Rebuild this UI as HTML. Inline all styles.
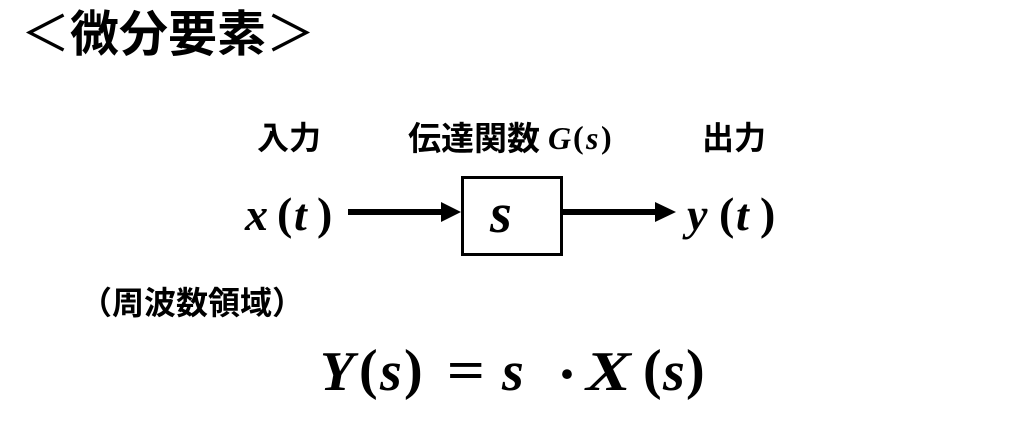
<!DOCTYPE html>
<html><head><meta charset="utf-8"><style>
html,body{margin:0;padding:0;background:#fff;}
body{width:1024px;height:427px;position:relative;overflow:hidden;}
.t{position:absolute;white-space:nowrap;line-height:1;color:#000;}
.jp{font-family:"Liberation Sans","Noto Sans CJK JP",sans-serif;font-weight:bold;}
.m{font-family:"Liberation Serif",serif;font-weight:bold;}
.i{font-style:italic;}
</style></head><body>
<div class="t jp" style="left:21px;top:11px;font-size:49px;font-weight:normal;">＜<b>微分要素</b>＞</div>
<div class="t jp" style="left:257px;top:122px;font-size:32px;">入力</div>
<div class="t jp" style="left:408px;top:122px;font-size:33px;">伝達関数</div>
<div class="t m i" style="left:548px;top:122px;font-size:32px;">G</div>
<div class="t m" style="left:573px;top:121px;font-size:32px;">(</div>
<div class="t m i" style="left:586px;top:122px;font-size:32px;">s</div>
<div class="t m" style="left:601px;top:121px;font-size:32px;">)</div>
<div class="t jp" style="left:702px;top:122px;font-size:32px;">出力</div>

<div class="t m i" style="left:245px;top:192px;font-size:46px;">x</div>
<div class="t m" style="left:277px;top:191px;font-size:46px;">(</div>
<div class="t m i" style="left:294px;top:192px;font-size:46px;">t</div>
<div class="t m" style="left:317px;top:191px;font-size:46px;">)</div>

<div class="t m i" style="left:687px;top:192px;font-size:46px;">y</div>
<div class="t m" style="left:719px;top:191px;font-size:46px;">(</div>
<div class="t m i" style="left:736px;top:192px;font-size:46px;">t</div>
<div class="t m" style="left:760px;top:191px;font-size:46px;">)</div>

<svg style="position:absolute;left:0;top:0" width="1024" height="427">
<rect x="462.5" y="177.5" width="99" height="77" fill="none" stroke="#000" stroke-width="3"/>
<line x1="348" y1="212" x2="444" y2="212" stroke="#000" stroke-width="6"/>
<polygon points="441,202 461,212 441,222" fill="#000"/>
<line x1="563" y1="212" x2="658" y2="212" stroke="#000" stroke-width="6"/>
<polygon points="655,202 676,212 655,222" fill="#000"/>
</svg>
<div class="t m i" style="left:490px;top:186px;font-size:56px;">s</div>
<div class="t jp" style="left:80px;top:287px;font-size:32px;">（周波数領域）</div>

<div class="t m i" style="left:320px;top:344px;font-size:56px;">Y</div>
<div class="t m" style="left:359px;top:342px;font-size:56px;">(</div>
<div class="t m i" style="left:380px;top:344px;font-size:56px;">s</div>
<div class="t m" style="left:404px;top:342px;font-size:56px;">)</div>
<div class="t m" style="left:450px;top:343px;font-size:56px;transform:scaleX(1.2);">=</div>
<div class="t m i" style="left:502px;top:344px;font-size:56px;">s</div>
<div class="t m" style="left:557px;top:344px;font-size:60px;">·</div>
<div class="t m i" style="left:586px;top:344px;font-size:56px;transform:scaleX(1.2);transform-origin:left;">X</div>
<div class="t m" style="left:643px;top:342px;font-size:56px;">(</div>
<div class="t m i" style="left:663px;top:344px;font-size:56px;">s</div>
<div class="t m" style="left:686px;top:342px;font-size:56px;">)</div>
</body></html>
